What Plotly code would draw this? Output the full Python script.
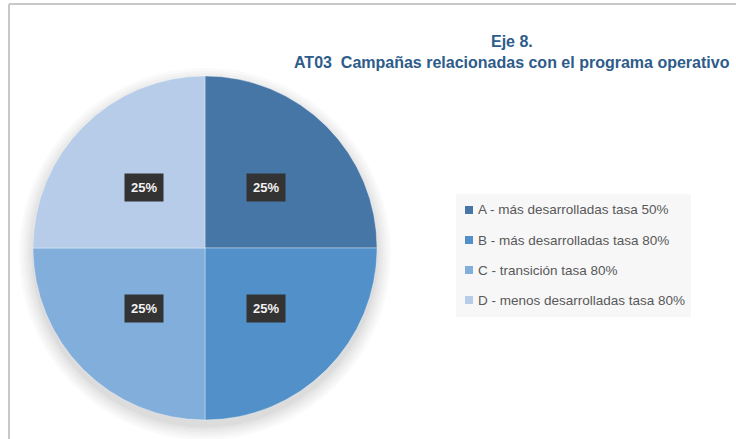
import math
import plotly.graph_objects as go

# ---- data ----
categories = [
    "A - más desarrolladas tasa 50%",
    "B - más desarrolladas tasa 80%",
    "C - transición tasa 80%",
    "D - menos desarrolladas tasa 80%",
]
values = [25, 25, 25, 25]
colors = ["#4676a6", "#5190c8", "#82aedc", "#b6cce8"]
title_line1 = "Eje 8."
title_line2 = "AT03  Campañas relacionadas con el programa operativo"

W, H = 736, 439


def px(x):
    return x / W


def py(y):
    return 1 - y / H


# pie geometry (pixels)
cx, cy, R = 205, 248, 172

fig = go.Figure()
fig.add_trace(go.Pie(
    labels=categories,
    values=values,
    sort=False,
    direction="clockwise",
    rotation=0,
    marker=dict(colors=colors, line=dict(color="rgba(255,255,255,0.35)", width=1)),
    textinfo="none",
    hoverinfo="label+percent",
    showlegend=False,
    domain=dict(x=[px(cx - R), px(cx + R)], y=[py(cy + R), py(cy - R)]),
))

shapes = []
# soft shadow under the pie
for i, a in enumerate([0.018, 0.018, 0.02, 0.022, 0.025, 0.03]):
    rr = R + 14 - i * 2.5
    oy = 6
    shapes.append(dict(type="circle", xref="paper", yref="paper", layer="below",
                       x0=px(cx - rr), x1=px(cx + rr), y0=py(cy + oy + rr), y1=py(cy + oy - rr),
                       fillcolor=f"rgba(0,0,0,{a})", line=dict(width=0)))
# chart border
shapes.append(dict(type="line", xref="paper", yref="paper", x0=px(9), x1=1, y0=py(4), y1=py(4),
                   line=dict(color="#c8c8c8", width=2)))
shapes.append(dict(type="line", xref="paper", yref="paper", x0=px(9), x1=px(9), y0=py(4), y1=0,
                   line=dict(color="#c8c8c8", width=2)))
# legend background
shapes.append(dict(type="rect", xref="paper", yref="paper", layer="below",
                   x0=px(456), x1=px(691), y0=py(317), y1=py(194),
                   fillcolor="#f7f7f7", line=dict(width=0)))

annotations = []
# data labels computed from values
total = sum(values)
cum = 0
for v in values:
    mid = (cum + v / 2) / total * 2 * math.pi
    cum += v
    lx = cx + 0.5 * R * math.sin(mid)
    ly = cy - 0.5 * R * math.cos(mid)
    annotations.append(dict(
        x=px(lx), y=py(ly), xref="paper", yref="paper", showarrow=False,
        text=f"<b>{v / total * 100:.0f}%</b>",
        font=dict(family="Liberation Sans, Arial", size=13, color="#f2f2f2"),
        bgcolor="#333333", borderpad=6, xanchor="center", yanchor="middle"))

# manual legend
leg_y = [210, 240, 270, 300]
for cat, col, yy in zip(categories, colors, leg_y):
    shapes.append(dict(type="rect", xref="paper", yref="paper",
                       x0=px(465), x1=px(473), y0=py(yy + 4), y1=py(yy - 4),
                       fillcolor=col, line=dict(width=0)))
    annotations.append(dict(x=px(476), y=py(yy), xref="paper", yref="paper", showarrow=False,
                            text=cat, xanchor="left", yanchor="middle",
                            font=dict(family="Liberation Sans, Arial", size=13.5, color="#595959")))

# title
annotations.append(dict(x=px(512), y=py(41), xref="paper", yref="paper", showarrow=False,
                        text=f"<b>{title_line1}</b>", xanchor="center", yanchor="middle",
                        font=dict(family="Liberation Sans, Arial", size=16, color="#2e5c8a")))
annotations.append(dict(x=px(512), y=py(63), xref="paper", yref="paper", showarrow=False,
                        text=f"<b>{title_line2}</b>", xanchor="center", yanchor="middle",
                        font=dict(family="Liberation Sans, Arial", size=16, color="#2e5c8a")))

fig.update_layout(
    width=W, height=H,
    margin=dict(l=0, r=0, t=0, b=0),
    paper_bgcolor="white", plot_bgcolor="white",
    shapes=shapes, annotations=annotations,
    showlegend=False,
)

fig.write_html("out.html",
               config={"displayModeBar": False},
               post_script="document.body.style.margin='0';document.body.style.overflow='hidden';")
